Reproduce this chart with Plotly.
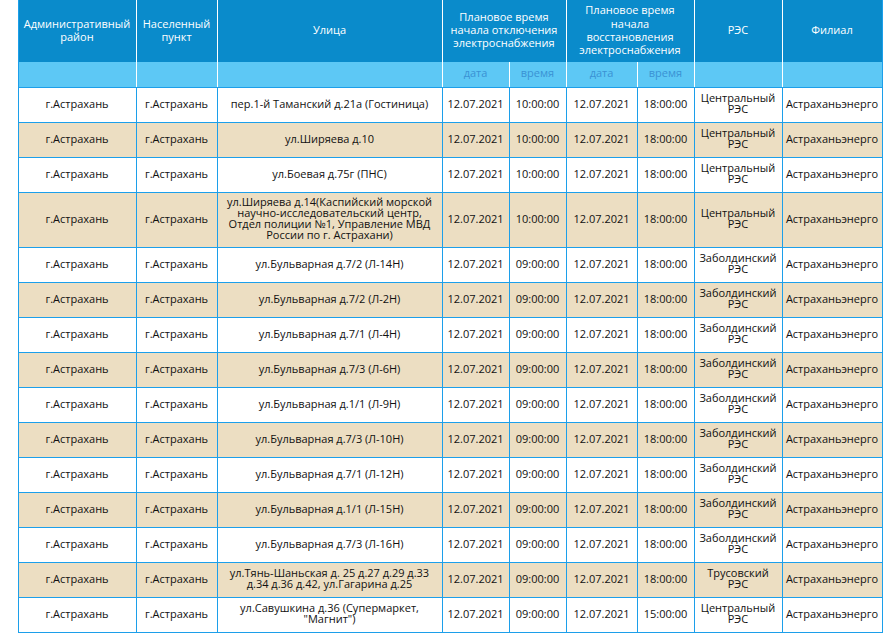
import plotly.graph_objects as go

# ---- data ----
top_headers = ["Административный<br>район", "Населенный<br>пункт", "Улица",
               "Плановое время<br>начала отключения<br>электроснабжения",
               "Плановое время<br>начала<br>восстановления<br>электроснабжения",
               "РЭС", "Филиал"]
top_span = [1, 1, 1, 2, 2, 1, 1]  # how many sub-columns each top header spans
sub_headers = ["", "", "", "дата", "время", "дата", "время", "", ""]

district = ["г.Астрахань"] * 15
settlement = ["г.Астрахань"] * 15
streets = [
    "пер.1-й Таманский д.21а (Гостиница)",
    "ул.Ширяева д.10",
    "ул.Боевая д.75г (ПНС)",
    "ул.Ширяева д.14(Каспийский морской<br>научно-исследовательский центр,<br>Отдел полиции №1, Управление МВД<br>России по г. Астрахани)",
    "ул.Бульварная д.7/2 (Л-14Н)",
    "ул.Бульварная д.7/2 (Л-2Н)",
    "ул.Бульварная д.7/1 (Л-4Н)",
    "ул.Бульварная д.7/3 (Л-6Н)",
    "ул.Бульварная д.1/1 (Л-9Н)",
    "ул.Бульварная д.7/3 (Л-10Н)",
    "ул.Бульварная д.7/1 (Л-12Н)",
    "ул.Бульварная д.1/1 (Л-15Н)",
    "ул.Бульварная д.7/3 (Л-16Н)",
    "ул.Тянь-Шаньская д. 25 д.27 д.29 д.33<br>д.34 д.36 д.42, ул.Гагарина д.25",
    "ул.Савушкина д.36 (Супермаркет,<br>\"Магнит\")",
]
off_date = ["12.07.2021"] * 15
off_time = ["10:00:00"] * 4 + ["09:00:00"] * 11
on_date = ["12.07.2021"] * 15
on_time = ["18:00:00"] * 14 + ["15:00:00"]
res = ["Центральный<br>РЭС"] * 4 + ["Заболдинский<br>РЭС"] * 9 + ["Трусовский<br>РЭС", "Центральный<br>РЭС"]
branch = ["Астраханьэнерго"] * 15

columns = [district, settlement, streets, off_date, off_time, on_date, on_time, res, branch]

# ---- layout / style ----
W, H = 890, 638
X0 = 18
col_w = [118, 81, 225, 67, 57, 71, 57, 88, 100]
top_h, sub_h = 62, 25
row_h = [35, 35, 35, 55] + [35] * 11

DARK = "#0a8bcb"
LIGHT = "#5dc8f5"
BEIGE = "#ecdec2"
BORDER = "#1c9fea"
SUBTXT = "#3a92d4"
TXT = "#111111"
FONT = "Open Sans"
BODY_LH = 10.9
HEAD_LH = 13.2

col_edges = [X0]
for w in col_w:
    col_edges.append(col_edges[-1] + w)
row_edges = [top_h + sub_h]
for h in row_h:
    row_edges.append(row_edges[-1] + h)
x_left, x_right = col_edges[0], col_edges[-1]
y_bottom = row_edges[-1]

shapes = []


def rect(x0, x1, y0, y1, color):
    shapes.append(dict(type="rect", xref="x", yref="y", x0=x0, x1=x1, y0=y0, y1=y1,
                       fillcolor=color, line=dict(width=0), layer="below"))


def line(x0, x1, y0, y1, color):
    shapes.append(dict(type="line", xref="x", yref="y", x0=x0, x1=x1, y0=y0, y1=y1,
                       line=dict(color=color, width=1), layer="above"))


# fills
rect(x_left, x_right, 0, top_h, DARK)
rect(x_left, x_right, top_h, top_h + sub_h, LIGHT)
for i in range(len(row_h)):
    rect(x_left, x_right, row_edges[i], row_edges[i + 1], "#ffffff" if i % 2 == 0 else BEIGE)

# header separators (white)
k = 0
top_edges = [X0]
for span in top_span:
    k += span
    top_edges.append(col_edges[k])
for xe in top_edges[1:-1]:
    line(xe + 0.5, xe + 0.5, 0, top_h + sub_h, "white")
for xe in col_edges[1:-1]:
    if xe not in top_edges:
        line(xe + 0.5, xe + 0.5, top_h, top_h + sub_h, "white")

# body grid (blue)
for xe in col_edges[1:-1]:
    line(xe + 0.5, xe + 0.5, row_edges[0], y_bottom, BORDER)
for ye in row_edges:
    line(x_left, x_right + 1, ye + 0.5, ye + 0.5, BORDER)
line(x_left + 0.5, x_left + 0.5, 0, y_bottom + 1, BORDER)
line(x_right + 0.5, x_right + 0.5, 0, y_bottom + 1, BORDER)


def split_text(texts, centers_x, centers_y, lh):
    xs, ys, ts = [], [], []
    for t, cx, cy in zip(texts, centers_x, centers_y):
        parts = t.split("<br>")
        n = len(parts)
        for j, p in enumerate(parts):
            if p == "":
                continue
            xs.append(cx)
            ys.append(cy + (j - (n - 1) / 2) * lh)
            ts.append(p)
    return xs, ys, ts


# header text
top_cx = [(top_edges[i] + top_edges[i + 1]) / 2 for i in range(len(top_headers))]
hx, hy, ht = split_text(top_headers, top_cx, [top_h / 2 + 0.5] * len(top_headers), HEAD_LH)
col_cx = [(col_edges[i] + col_edges[i + 1]) / 2 for i in range(len(col_w))]
sx, sy, st = split_text(sub_headers, col_cx, [top_h + sub_h / 2] * len(col_w), HEAD_LH)

# body text
bx, by, bt = [], [], []
for c, vals in enumerate(columns):
    cys = [(row_edges[i] + row_edges[i + 1]) / 2 + 0.5 for i in range(len(vals))]
    xs, ys, ts = split_text(vals, [col_cx[c]] * len(vals), cys, BODY_LH)
    bx += xs
    by += ys
    bt += ts

fig = go.Figure()
fig.add_trace(go.Scatter(x=hx, y=hy, text=ht, mode="text", textposition="middle center",
                         textfont=dict(family=FONT, size=11, color="white"), hoverinfo="skip"))
fig.add_trace(go.Scatter(x=sx, y=sy, text=st, mode="text", textposition="middle center",
                         textfont=dict(family=FONT, size=11, color=SUBTXT), hoverinfo="skip"))
fig.add_trace(go.Scatter(x=bx, y=by, text=bt, mode="text", textposition="middle center",
                         textfont=dict(family=FONT, size=11, color=TXT), hoverinfo="skip"))

fig.update_layout(
    width=W, height=H, margin=dict(l=0, r=0, t=0, b=0),
    paper_bgcolor="white", plot_bgcolor="white", showlegend=False,
    shapes=shapes,
    xaxis=dict(range=[0, W], visible=False, fixedrange=True),
    yaxis=dict(range=[H, 0], visible=False, fixedrange=True),
)
fig.write_html("out.html", config={"displayModeBar": False},
               post_script="document.body.style.margin='0';")
